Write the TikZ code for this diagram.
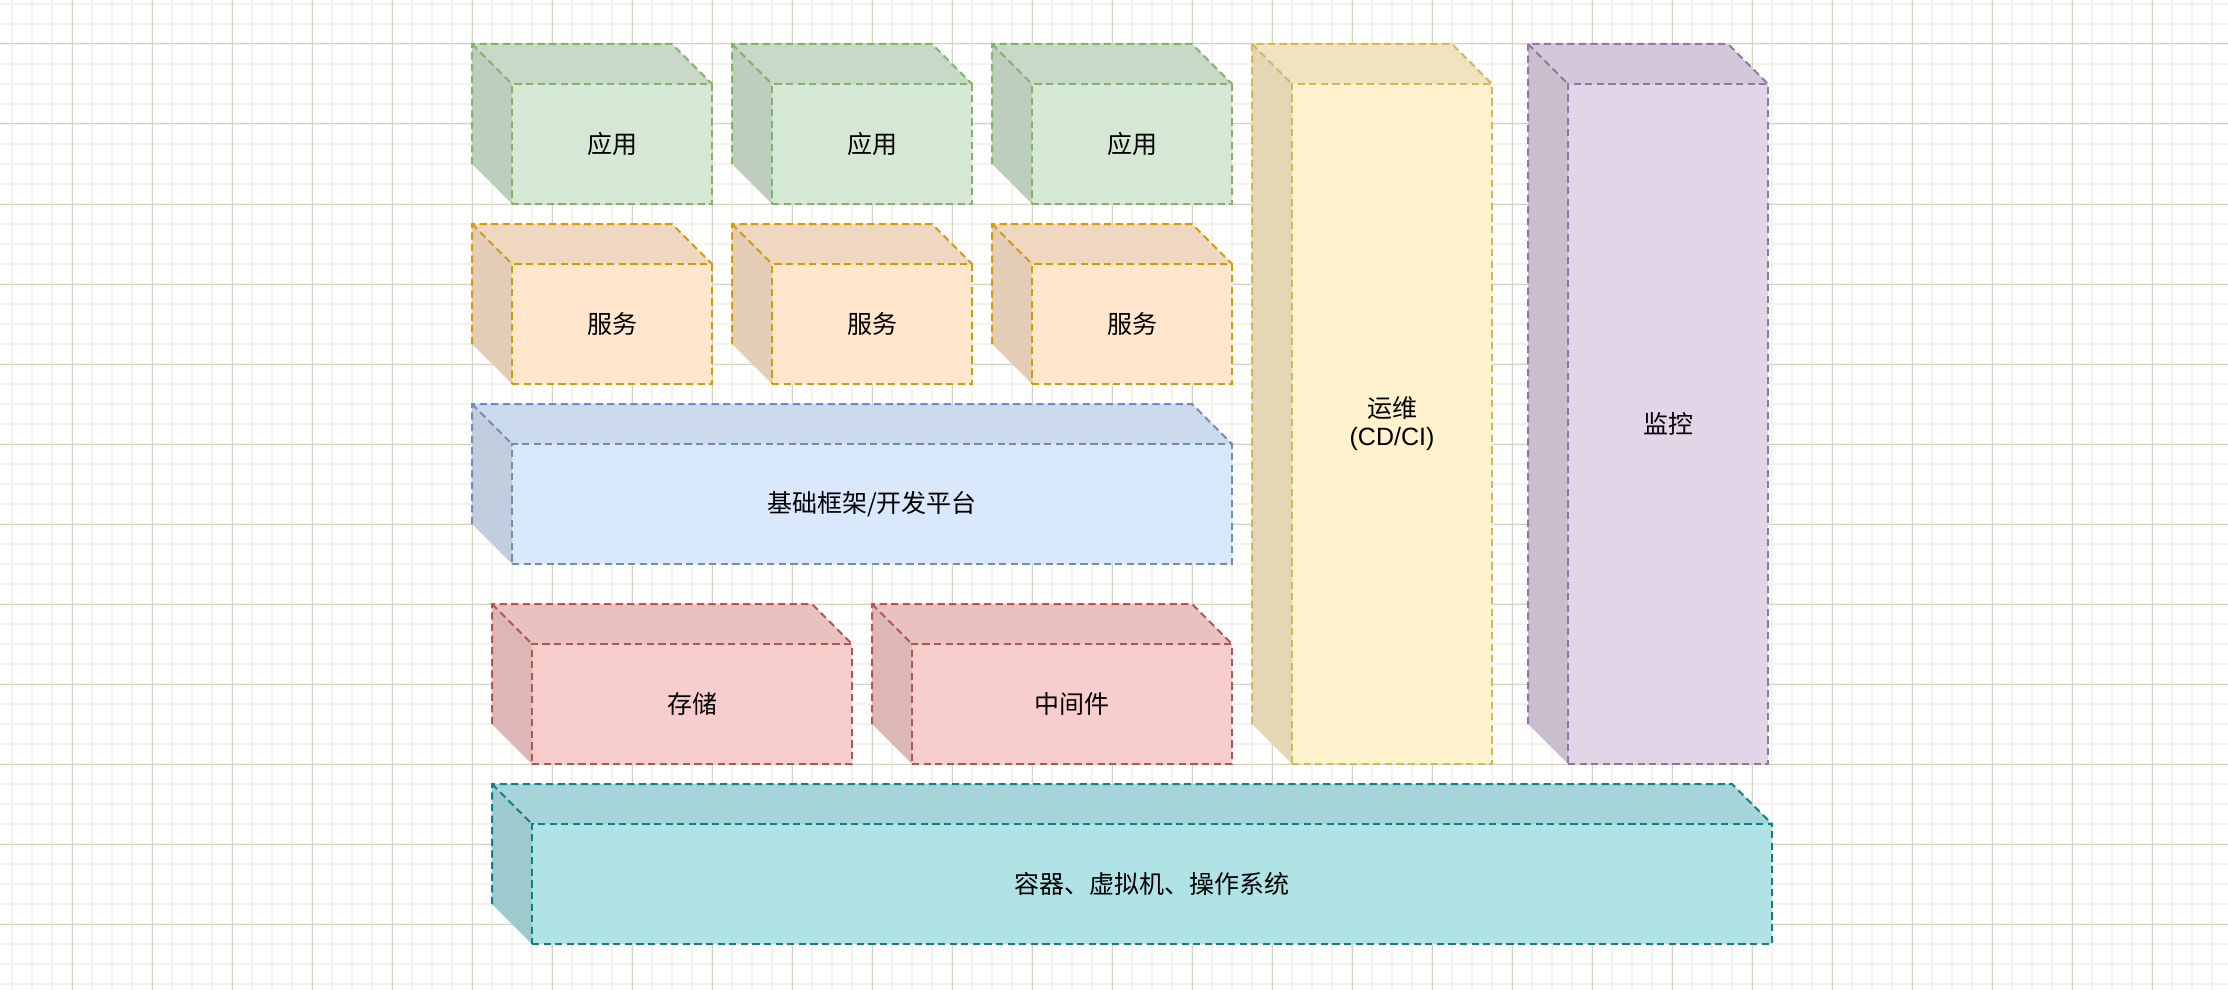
\documentclass[tikz,border=0pt]{standalone}
\usepackage{fontspec}
\setmainfont{Liberation Sans}
\newfontfamily\cjk{Noto Sans CJK SC}
\newfontfamily\latin{Liberation Sans}
\usetikzlibrary{positioning,backgrounds}
\definecolor{cAppFill}{HTML}{D5E8D4}
\definecolor{cAppLine}{HTML}{82B366}
\definecolor{cSvcFill}{HTML}{FFE6CC}
\definecolor{cSvcLine}{HTML}{D79B00}
\definecolor{cBaseFill}{HTML}{DAE8FC}
\definecolor{cBaseLine}{HTML}{6C8EBF}
\definecolor{cStoreFill}{HTML}{F8CECC}
\definecolor{cStoreLine}{HTML}{B85450}
\definecolor{cOpsFill}{HTML}{FFF2CC}
\definecolor{cOpsLine}{HTML}{D6B656}
\definecolor{cMonFill}{HTML}{E1D5E7}
\definecolor{cMonLine}{HTML}{9673A6}
\definecolor{cOsFill}{HTML}{B0E3E6}
\definecolor{cOsLine}{HTML}{0E8088}
\definecolor{cGridMinor}{HTML}{F3F3EC}
\definecolor{cGridMajor}{HTML}{D3D3BF}

\begin{document}
\begin{tikzpicture}[
  x=1pt, y=1pt,
  box/.style={rectangle, draw=#1Line, fill=#1Fill, line width=1pt,
              dash pattern=on 3.6pt off 2.2pt, inner sep=0pt, outer sep=0pt,
              minimum height=60pt, align=center,
              font=\cjk\fontsize{12.5}{14}\selectfont},
  rim/.style={draw=#1Line, line width=1pt, dash pattern=on 3.6pt off 2.2pt},
  minor/.style={draw=cGridMinor, line width=1pt},
  major/.style={draw=cGridMajor, line width=0.5pt},
]
\useasboundingbox (0,0) rectangle (1114,-495);

% ---- grid ----
\begin{scope}[on background layer]
  \fill[white] (0,0) rectangle (1114,-495);
  \foreach \x in {6,16,...,1114} \draw[minor] (\x,0) -- (\x,-495);
  \foreach \y in {2,12,...,495} \draw[minor] (0,-\y) -- (1114,-\y);
  \foreach \x in {36,76,...,1114} \draw[major] (\x,0) -- (\x,-495);
  \foreach \y in {22,62,...,495} \draw[major] (0,-\y) -- (1114,-\y);
\end{scope}

% ---- Row 1: applications ----
\node[box=cApp, minimum width=100pt] (app1) at (306,-72) {应用};
\node[box=cApp, minimum width=100pt, right=30pt of app1] (app2) {应用};
\node[box=cApp, minimum width=100pt, right=30pt of app2] (app3) {应用};

% ---- Row 2: services ----
\node[box=cSvc, minimum width=100pt, below=30pt of app1] (svc1) {服务};
\node[box=cSvc, minimum width=100pt, right=30pt of svc1] (svc2) {服务};
\node[box=cSvc, minimum width=100pt, right=30pt of svc2] (svc3) {服务};

% ---- Row 3: framework ----
\node[box=cBase, minimum width=360pt, below=30pt of svc2] (base) {基础框架/开发平台};

% ---- Row 4: storage + middleware ----
\node[box=cStore, minimum width=160pt, below right=40pt and 10pt of base.south west] (store) {存储};
\node[box=cStore, minimum width=160pt, right=30pt of store] (mid) {中间件};

% ---- side columns ----
\node[box=cOps, minimum width=100pt, minimum height=340pt,
      below right=0pt and 30pt of app3.north east] (ops) {运维\\{\latin (CD/CI)}};
\node[box=cMon, minimum width=100pt, minimum height=340pt,
      below right=0pt and 38pt of ops.north east] (mon) {监控};

% ---- bottom layer ----
\node[box=cOs, minimum width=620pt, below right=30pt and 0pt of store.south west] (os)
  {容器、虚拟机、操作系统};

% ---- cube faces ----
\foreach \n/\col in {app1/cApp,app2/cApp,app3/cApp,svc1/cSvc,svc2/cSvc,svc3/cSvc,
                     base/cBase,store/cStore,mid/cStore,ops/cOps,mon/cMon,os/cOs} {
  \begin{scope}[on background layer]
    \fill[fill=\col Fill!94!black] (\n.north west) -- ++(-20pt,20pt)
      -- ([shift={(-20pt,20pt)}]\n.north east) -- (\n.north east) -- cycle;
    \fill[fill=\col Fill!89!black] (\n.north west) -- ++(-20pt,20pt)
      -- ([shift={(-20pt,20pt)}]\n.south west) -- (\n.south west) -- cycle;
  \end{scope}
  \draw[rim=\col] ([shift={(-20pt,20pt)}]\n.south west) -- ([shift={(-20pt,20pt)}]\n.north west)
    -- ([shift={(-20pt,20pt)}]\n.north east) -- (\n.north east);
  \draw[rim=\col] ([shift={(-20pt,20pt)}]\n.north west) -- (\n.north west);
}

\end{tikzpicture}
\end{document}
